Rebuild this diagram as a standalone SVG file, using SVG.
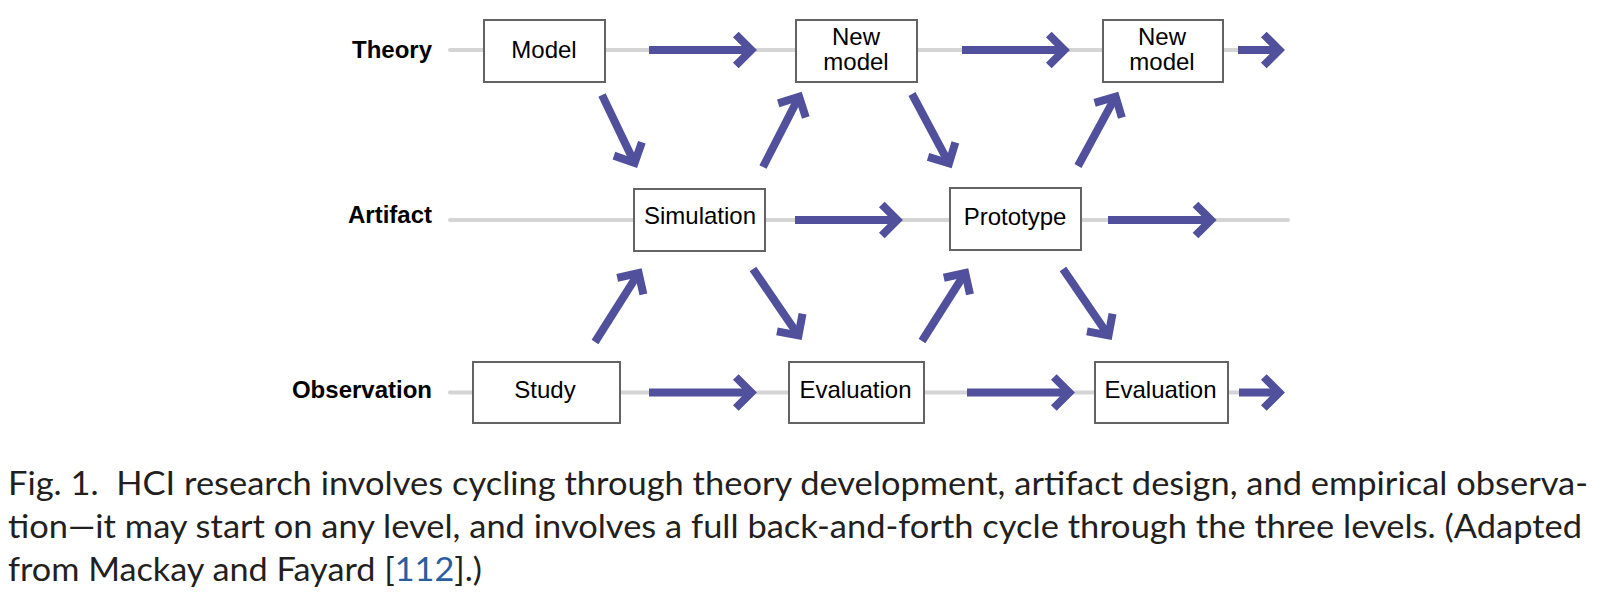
<svg xmlns="http://www.w3.org/2000/svg" width="1602" height="592" viewBox="0 0 1602 592">
<style>
.lane{stroke:#d4d4d4;stroke-width:4;stroke-linecap:round;fill:none}
.box{fill:#fff;stroke:#636363;stroke-width:2}
.lbl{font-family:"Liberation Sans",Arial,sans-serif;font-size:24px;fill:#000;text-anchor:middle}
.row{font-family:"Liberation Sans",Arial,sans-serif;font-size:24px;font-weight:bold;fill:#000;text-anchor:end}
.arr{stroke:#50509c;stroke-width:8;fill:none;stroke-linecap:butt;marker-end:url(#ah)}
.cap{font-family:Lato,"Open Sans",sans-serif;font-size:33px;fill:#231f20}
</style>
<defs>
<marker id="ah" markerUnits="userSpaceOnUse" markerWidth="40" markerHeight="40" refX="0" refY="0" orient="auto" overflow="visible">
<path d="M-15.5,-15.5 L0,0 L-15.5,15.5" fill="none" stroke="#50509c" stroke-width="8" stroke-linejoin="miter" stroke-linecap="butt"/>
</marker>
</defs>
<rect width="1602" height="592" fill="#fff"/>
<g id="lanes">
<line class="lane" x1="450" y1="50" x2="1270" y2="50"/>
<line class="lane" x1="450" y1="220" x2="1288" y2="220"/>
<line class="lane" x1="450" y1="392.5" x2="1270" y2="392.5"/>
</g>
<g id="row-labels">
<text class="row" x="432" y="58">Theory</text>
<text class="row" x="432" y="223">Artifact</text>
<text class="row" x="432" y="398">Observation</text>
</g>
<g id="connectors">
<line class="arr" x1="649" y1="50" x2="751.3" y2="50"/>
<line class="arr" x1="962" y1="50" x2="1064.3" y2="50"/>
<line class="arr" x1="1238" y1="50" x2="1279.3" y2="50"/>
<line class="arr" x1="795" y1="220" x2="897.3" y2="220"/>
<line class="arr" x1="1108" y1="220" x2="1211" y2="220"/>
<line class="arr" x1="649" y1="392.5" x2="751.3" y2="392.5"/>
<line class="arr" x1="967" y1="392.5" x2="1069.3" y2="392.5"/>
<line class="arr" x1="1239" y1="392.5" x2="1279.3" y2="392.5"/>
<line class="arr" x1="602" y1="95" x2="634.6" y2="162.9"/>
<line class="arr" x1="763" y1="167" x2="799.1" y2="96.7"/>
<line class="arr" x1="912" y1="94" x2="949" y2="163.3"/>
<line class="arr" x1="1078" y1="166" x2="1115.6" y2="96.6"/>
<line class="arr" x1="595" y1="342" x2="638.6" y2="273.1"/>
<line class="arr" x1="753" y1="269" x2="798.5" y2="335.4"/>
<line class="arr" x1="922" y1="341" x2="965.2" y2="273"/>
<line class="arr" x1="1063" y1="269" x2="1108.5" y2="335.4"/>
</g>
<g id="model"><rect class="box" x="484" y="20" width="121" height="62"/><text class="lbl" x="544" y="58">Model</text></g>
<g id="new-model-1"><rect class="box" x="796" y="20" width="121" height="62"/><text class="lbl" x="856" y="45">New</text><text class="lbl" x="856" y="70">model</text></g>
<g id="new-model-2"><rect class="box" x="1103" y="20" width="120" height="62"/><text class="lbl" x="1162" y="45">New</text><text class="lbl" x="1162" y="70">model</text></g>
<g id="simulation"><rect class="box" x="634" y="189" width="131" height="62"/><text class="lbl" x="700" y="224">Simulation</text></g>
<g id="prototype"><rect class="box" x="950" y="188" width="131" height="62"/><text class="lbl" x="1015" y="225">Prototype</text></g>
<g id="study"><rect class="box" x="473" y="362" width="147" height="61"/><text class="lbl" x="545" y="398">Study</text></g>
<g id="evaluation-1"><rect class="box" x="789" y="362" width="135" height="61"/><text class="lbl" x="855.5" y="398">Evaluation</text></g>
<g id="evaluation-2"><rect class="box" x="1095" y="362" width="133" height="61"/><text class="lbl" x="1160.5" y="398">Evaluation</text></g>
<g id="caption">
<text class="cap" x="8" y="495" textLength="1580" lengthAdjust="spacingAndGlyphs">Fig. 1.&#160; HCI research involves cycling through theory development, artifact design, and empirical observa-</text>
<text class="cap" x="8" y="538" textLength="1574" lengthAdjust="spacingAndGlyphs">tion—it may start on any level, and involves a full back-and-forth cycle through the three levels. (Adapted</text>
<text class="cap" x="8" y="581" textLength="474" lengthAdjust="spacingAndGlyphs">from Mackay and Fayard [<tspan fill="#2a5d9f">112</tspan>].)</text>
</g>
</svg>
